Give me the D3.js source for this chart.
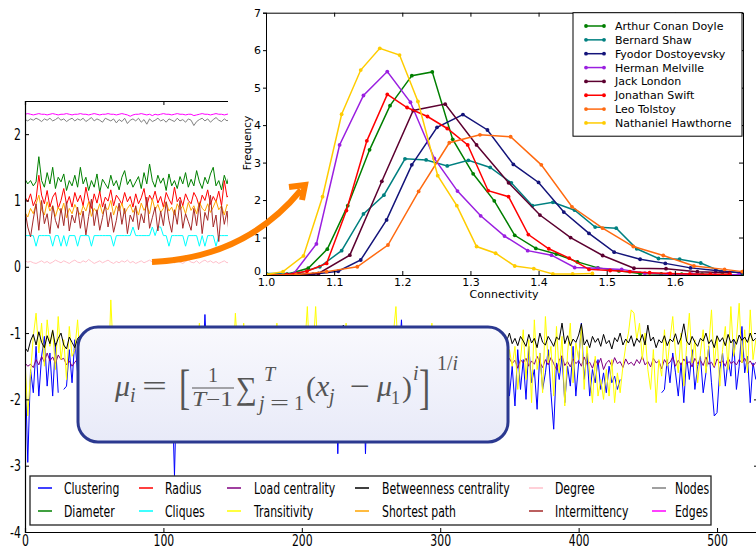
<!DOCTYPE html>
<html>
<head>
<meta charset="utf-8">
<script src="https://cdnjs.cloudflare.com/ajax/libs/d3/7.8.5/d3.min.js"></script>
<style>
  body { margin: 0; background: #fff; }
</style>
</head>
<body>
<div id="chart"></div>
<script>
// ---------- background: measures over time (one value every 2 steps) ----------
var step = 2;

var clustering = [
  -1.40,-2.95,-1.55,-1.90,-1.20,-1.95,-1.35,-1.05,-1.80,-1.30,-1.95,-1.15,-1.90,null,-1.85,-1.80,-1.25,-1.75,-1.10,-1.60,
  -1.35,-1.70,-1.20,-1.85,-1.45,-1.30,-1.65,-1.50,-1.25,-1.75,-1.40,-1.55,-1.30,-1.80,-1.45,-1.60,-1.20,-1.70,-1.50,-1.35,
  -1.60,-1.40,-1.75,-1.30,-1.55,-1.45,-1.85,-1.35,-1.60,-1.50,-1.70,-1.25,-1.55,-1.65,-3.15,-1.45,-1.70,-1.40,-1.60,-1.50,
  -1.65,-1.35,-1.55,-1.45,-1.75,-0.72,-1.60,-1.40,-1.70,-1.50,-1.35,-1.65,-1.45,-1.80,-1.55,-1.40,-1.70,-1.30,-1.60,-1.50,
  -1.75,-1.45,-1.60,-1.35,-1.55,-1.70,-2.65,-1.50,-1.40,-1.65,-1.55,-1.80,-1.45,-1.60,-1.35,-1.70,-1.50,-1.65,-1.40,-1.55,
  -1.60,-1.45,-1.75,-1.50,-1.65,-1.40,-1.70,-1.55,-1.45,-1.60,-1.35,-1.75,-1.50,-2.82,-1.60,-0.92,-1.45,-1.70,-1.55,-2.62,
  -1.50,-1.65,-1.40,-2.82,-1.55,-1.70,-1.45,-1.60,-1.35,-1.75,-1.50,-1.65,-1.40,-1.55,-1.70,-1.45,-0.80,-1.60,-1.50,-1.70,
  -1.45,-1.60,-1.75,-1.40,-1.55,-1.65,-1.35,-1.70,-1.50,-1.60,-1.45,-1.75,-1.40,-1.55,-1.65,-1.50,-1.70,-1.45,-1.60,-1.55,
  -1.70,-1.45,-1.60,-1.35,-1.75,-1.55,-1.40,-1.65,-1.50,-1.80,-1.45,-1.60,-1.70,-2.25,-1.30,-1.95,-1.50,-2.10,-1.25,-1.85,
  -1.40,-2.00,-1.20,-1.75,-1.55,-2.15,-1.30,-1.85,-1.60,-1.25,-1.90,-2.45,-1.45,-1.70,-1.35,-2.05,-1.50,-1.80,-1.20,-1.95,
  -1.45,-0.85,-1.70,-1.30,-1.95,-1.55,-1.75,-1.40,-1.85,-1.60,-1.90,-1.50,-1.75,-1.65,-1.85,-1.70,null,null,null,null,
  null,null,null,null,null,null,null,null,null,null,-1.90,-1.85,-1.40,-1.75,-1.30,-1.60,-1.95,-1.45,-2.05,-1.35,
  -1.70,-1.25,-1.85,-1.50,-1.35,-1.90,-1.60,-1.20,-1.75,-2.25,-2.20,-1.55,-1.30,-1.80,-1.40,-1.65,-1.10,-1.85,-1.50,-0.90,
  -1.60,-1.35,-2.05,-1.45,-1.70
];

var transitivity = [
  -1.40,-2.25,-1.60,-1.05,-0.70,-1.30,-0.85,-1.50,-0.80,-1.20,-0.95,-1.55,-0.75,-1.40,-1.10,-1.70,-0.90,-1.35,-1.25,-0.80,
  -1.50,-1.10,-1.70,-1.00,-1.45,-1.20,-0.95,-1.60,-1.30,-1.15,-1.80,-0.50,-1.40,-1.25,-1.55,-1.05,-1.35,-0.95,-1.70,-1.20,
  -1.45,-1.10,-1.60,-1.25,-1.85,-1.05,-1.40,-0.95,-1.50,-1.30,-1.70,-1.15,-1.40,-1.20,-1.55,-1.00,-1.35,-0.90,-1.60,-1.25,
  -1.50,-1.10,-1.30,-0.85,-1.65,-1.20,-1.45,-1.05,-1.75,-1.30,-1.10,-1.55,-1.25,-1.40,-1.20,-1.60,-0.70,-1.35,-1.50,-0.85,
  -1.45,-1.20,-1.60,-1.30,-1.05,-1.50,-1.25,-1.70,-1.15,-1.40,-1.35,-0.85,-1.55,-1.20,-1.45,-1.10,-1.65,-1.30,-1.50,-1.15,
  -1.40,-1.25,-0.60,-1.55,-1.30,-0.60,-1.45,-1.20,-1.70,-1.10,-1.35,-1.60,-1.25,-1.50,-1.15,-1.40,-0.85,-1.55,-1.20,-0.90,
  -1.45,-1.20,-1.65,-1.30,-1.10,-1.50,-1.25,-1.75,-1.35,-1.15,-1.60,-1.20,-1.45,-1.05,-0.60,-1.50,-1.30,-1.55,-1.20,-1.40,
  -1.35,-1.60,-1.15,-1.45,-0.90,-1.55,-1.25,-0.85,-1.50,-1.30,-1.65,-1.20,-1.40,-1.10,-1.55,-1.30,-1.70,-1.25,-1.45,-1.15,
  -1.50,-1.20,-1.65,-1.35,-1.10,-1.55,-1.25,-1.40,-1.70,-1.15,-1.45,-1.30,-1.60,-1.05,-1.80,-1.25,-1.50,-1.20,-1.85,-1.40,
  -0.95,-1.70,-1.10,-2.05,-0.80,-1.55,-1.30,-1.90,-0.75,-1.45,-1.20,-1.95,-0.90,-1.60,-1.05,-2.10,-1.30,-0.85,-1.75,-1.15,
  -1.40,-0.90,-1.85,-1.20,-1.60,-2.05,-1.35,-1.95,-1.70,-2.00,-1.55,-1.95,-1.40,-2.05,-1.60,-1.90,-1.50,-1.20,-1.00,-0.65,
  -0.70,-1.10,-0.85,-1.40,-1.00,-1.55,-1.85,-1.25,-2.05,-1.40,-1.65,-0.95,-1.50,-1.10,-0.75,-1.30,-1.60,-1.00,-1.80,-1.20,
  -0.70,-1.45,-1.10,-1.75,-1.30,-0.95,-1.60,-1.20,-0.65,-1.50,-1.05,-1.80,-1.25,-0.90,-1.55,-0.60,-1.35,-1.10,-0.55,-1.45,
  -0.95,-1.60,-0.65,-1.40,-1.10
];

var betweenness = [
  -1.22,-1.28,-1.12,-1.02,-1.18,-0.98,-1.14,-1.22,-1.04,-1.16,-0.96,-1.20,-1.08,-1.00,-1.18,-1.24,-1.06,-1.14,-1.22,-1.08,
  -1.04,-1.16,-1.10,-1.20,-1.06,-1.14,-1.02,-1.18,-1.12,-1.08,-1.22,-1.04,-1.15,-1.10,-1.19,-1.03,-1.13,-1.21,-1.07,-1.15,
  -1.10,-1.18,-1.04,-1.14,-1.20,-1.06,-1.12,-1.02,-1.16,-1.09,-1.21,-1.05,-1.13,-1.18,-1.03,-1.15,-1.09,-1.22,-1.07,-1.12,
  -1.16,-1.05,-1.19,-1.10,-1.03,-1.14,-1.20,-1.08,-1.13,-1.01,-1.17,-1.11,-1.06,-1.19,-1.12,-1.04,-1.15,-1.09,-1.21,-1.06,
  -1.12,-1.18,-1.05,-1.14,-1.09,-1.20,-1.03,-1.13,-1.17,-1.07,-1.11,-1.19,-1.04,-1.15,-1.10,-1.02,-1.16,-1.08,-1.20,-1.11,
  -1.05,-1.14,-1.19,-1.08,-1.12,-1.03,-1.17,-1.10,-1.21,-1.06,-1.13,-1.09,-1.18,-1.04,-1.15,-0.88,-1.11,-1.07,-1.19,-1.12,
  -1.08,-1.16,-1.03,-1.13,-1.20,-1.09,-1.14,-1.05,-1.18,-1.11,-1.02,-1.15,-1.19,-1.07,-1.12,-1.04,-1.17,-1.10,-1.21,-1.06,
  -1.13,-1.08,-1.18,-1.03,-1.15,-1.11,-1.20,-1.06,-1.12,-1.17,-1.04,-1.14,-1.09,-1.19,-1.05,-1.16,-1.10,-1.02,-1.18,-1.13,
  -1.07,-1.15,-1.11,-1.20,-1.04,-1.13,-1.18,-1.08,-1.14,-1.02,-1.17,-1.10,-1.21,-1.06,-1.12,-1.00,-1.16,-1.08,-1.19,-1.05,
  -1.12,-1.20,-1.02,-1.15,-1.08,-1.22,-1.00,-1.14,-1.18,-1.05,-1.12,-1.20,-1.06,-1.10,-0.85,-1.16,-1.04,-1.19,-1.09,-1.14,
  -1.03,-0.86,-1.18,-1.10,-1.22,-1.05,-1.14,-1.08,-1.20,-1.02,-1.16,-1.11,-1.24,-1.07,-1.13,-1.00,-1.18,-1.09,-1.15,-1.04,
  -1.20,-1.08,-1.14,-1.02,-1.18,-0.88,-1.12,-1.06,-1.22,-1.10,-1.15,-1.04,-1.19,-1.09,-1.13,-1.01,-1.17,-1.07,-0.86,-1.12,
  -1.18,-1.05,-1.14,-1.20,-1.08,-1.12,-1.00,-1.16,-1.10,-1.22,-1.04,-1.13,-1.07,-1.19,-1.02,-1.15,-1.09,-1.17,-1.03,-1.11,
  -1.06,-1.14,-1.00,-1.12,-1.08
];

var loadCentrality = [
  -1.45,-1.50,-1.47,-1.52,-1.40,-1.48,-1.35,-1.44,-1.30,-1.42,-1.36,-1.46,-1.33,-1.40,-1.38,-1.48,-1.42,-1.50,-1.44,-1.39,
  -1.46,-1.38,-1.50,-1.41,-1.35,-1.47,-1.43,-1.52,-1.37,-1.45,-1.40,-1.49,-1.34,-1.44,-1.48,-1.39,-1.46,-1.42,-1.51,-1.36,
  -1.44,-1.49,-1.38,-1.46,-1.41,-1.53,-1.37,-1.45,-1.40,-1.48,-1.35,-1.43,-1.50,-1.39,-1.47,-1.42,-1.36,-1.49,-1.44,-1.40,
  -1.47,-1.39,-1.45,-1.51,-1.36,-1.44,-1.41,-1.48,-1.38,-1.46,-1.52,-1.40,-1.43,-1.37,-1.49,-1.45,-1.39,-1.47,-1.42,-1.50,
  -1.38,-1.46,-1.43,-1.35,-1.48,-1.41,-1.50,-1.44,-1.37,-1.47,-1.40,-1.52,-1.45,-1.39,-1.43,-1.49,-1.36,-1.46,-1.42,-1.48,
  -1.41,-1.47,-1.36,-1.44,-1.50,-1.39,-1.45,-1.42,-1.53,-1.38,-1.46,-1.40,-1.48,-1.35,-1.44,-1.49,-1.41,-1.37,-1.46,-1.43,
  -1.50,-1.40,-1.45,-1.38,-1.47,-1.43,-1.36,-1.49,-1.42,-1.46,-1.39,-1.51,-1.44,-1.40,-1.48,-1.37,-1.45,-1.41,-1.50,-1.43,
  -1.39,-1.47,-1.42,-1.52,-1.38,-1.45,-1.41,-1.48,-1.36,-1.44,-1.49,-1.40,-1.46,-1.43,-1.37,-1.50,-1.42,-1.47,-1.39,-1.45,
  -1.41,-1.48,-1.36,-1.46,-1.43,-1.50,-1.39,-1.45,-1.52,-1.40,-1.47,-1.35,-1.44,-1.42,-1.49,-1.38,-1.46,-1.41,-1.53,-1.40,
  -1.45,-1.38,-1.50,-1.42,-1.47,-1.35,-1.44,-1.52,-1.40,-1.48,-1.37,-1.46,-1.55,-1.41,-1.34,-1.49,-1.43,-1.51,-1.39,-1.46,
  -1.42,-1.50,-1.36,-1.47,-1.44,-1.53,-1.40,-1.48,-1.38,-1.55,-1.45,-1.41,-1.50,-1.37,-1.46,-1.43,-1.52,-1.39,-1.47,-1.44,
  -1.49,-1.40,-1.46,-1.35,-1.48,-1.43,-1.51,-1.38,-1.45,-1.42,-1.54,-1.40,-1.47,-1.44,-1.36,-1.50,-1.41,-1.48,-1.39,-1.46,
  -1.43,-1.51,-1.38,-1.46,-1.41,-1.49,-1.36,-1.47,-1.44,-1.52,-1.39,-1.45,-1.42,-1.50,-1.37,-1.46,-1.43,-1.48,-1.40,-1.45,
  -1.38,-1.47,-1.42,-1.50,-1.44
];

// upper measures (only the first 150 steps are visible next to the inset)
var diameter = [
  1.32,1.25,1.30,1.22,1.28,1.66,1.30,1.20,1.42,1.25,1.50,1.18,1.35,1.28,1.40,1.15,1.30,1.22,1.38,1.20,
  1.50,1.25,1.35,1.15,1.30,1.20,1.40,1.12,1.32,1.25,1.18,1.38,1.22,1.30,1.16,1.35,1.45,1.24,1.32,1.20,
  1.28,1.36,1.18,1.42,1.25,1.55,1.30,1.20,1.38,1.26,1.34,1.15,1.40,1.22,1.30,1.18,1.36,1.25,1.42,1.20,
  1.32,1.22,1.45,1.28,1.18,1.35,1.25,1.40,1.50,1.22,1.30,1.16,1.38,1.25,1.42,1.30
];
var radius = [
  1.05,0.98,1.10,0.92,1.02,1.38,1.08,0.95,1.15,0.90,1.05,1.12,0.88,1.00,1.18,0.94,1.06,0.90,1.12,0.98,
  1.08,0.92,1.20,1.00,0.88,1.10,0.96,1.14,0.90,1.05,0.99,1.16,0.92,1.08,1.02,0.94,1.12,0.98,1.06,0.90,
  1.10,0.95,1.04,1.18,0.92,1.08,1.00,1.14,0.96,1.06,0.90,1.12,1.02,0.94,1.20,0.98,1.05,0.92,1.10,1.00,
  0.95,1.12,1.04,0.90,1.08,1.00,1.16,0.94,1.06,0.98,1.14,0.92,1.30,1.05,1.10,1.08
];
var cliques = [
  0.47,0.47,0.47,0.47,0.31,0.47,0.47,0.47,0.47,0.47,0.31,0.47,0.47,0.31,0.47,0.31,0.47,0.47,0.47,0.31,
  0.47,0.47,0.47,0.47,0.31,0.47,0.47,0.47,0.47,0.47,0.47,0.47,0.31,0.47,0.47,0.47,0.47,0.47,0.47,0.60,
  0.47,0.47,0.47,0.47,0.47,0.47,0.60,0.47,0.60,0.60,0.47,0.47,0.31,0.47,0.47,0.47,0.47,0.47,0.31,0.47,
  0.47,0.47,0.47,0.31,0.47,0.31,0.47,0.47,0.47,0.31,0.47,0.47,0.47,0.47,0.47,0.47
];
var shortestPath = [
  0.82,0.75,0.88,0.80,0.95,1.08,0.86,0.78,0.98,0.84,0.92,0.76,0.90,0.82,0.96,0.74,0.88,0.80,0.94,0.85,
  0.78,0.92,0.84,0.98,0.76,0.88,0.82,0.95,0.80,0.90,0.86,1.00,0.78,0.92,0.84,0.96,0.80,0.88,0.94,0.82,
  0.90,0.78,0.96,0.85,0.92,0.80,1.02,0.86,0.94,0.82,0.88,0.98,0.84,0.90,0.78,0.95,0.86,0.92,0.80,0.97,
  0.85,0.92,0.80,0.98,0.88,0.84,0.95,0.82,0.90,1.00,0.86,0.92,0.78,0.94,0.88,0.90
];
var degree = [
  0.09,0.07,0.08,0.06,0.05,0.07,0.09,0.06,0.08,0.05,0.07,0.10,0.08,0.06,0.09,0.07,0.05,0.08,0.10,0.07,
  0.06,0.09,0.07,0.11,0.08,0.05,0.07,0.09,0.06,0.08,0.10,0.07,0.05,0.08,0.06,0.09,0.07,0.10,0.06,0.08,
  0.05,0.07,0.09,0.06,0.08,0.10,0.07,0.05,0.08,0.06,0.09,0.07,0.12,0.08,0.06,0.09,0.07,0.05,0.08,0.10,
  0.07,0.06,0.09,0.05,0.08,0.10,0.07,0.09,0.06,0.08,0.05,0.07,0.09,0.06,0.08,0.07
];
var intermittency = [
  0.85,0.60,0.45,0.72,0.95,0.55,1.00,0.65,0.80,0.50,0.92,0.70,0.58,0.88,0.62,0.98,0.54,0.78,0.66,0.90,
  0.58,0.84,0.48,0.76,1.02,0.62,0.86,0.55,0.74,0.95,0.60,0.82,0.52,0.70,0.96,0.64,0.88,0.50,0.78,0.68,
  0.92,0.56,0.80,0.66,1.05,0.58,0.74,0.90,0.54,0.84,0.62,0.98,0.70,0.52,0.86,0.64,1.00,0.58,0.80,0.68,
  0.55,0.88,0.62,0.96,0.50,0.82,0.70,1.08,0.60,0.78,0.38,0.92,0.64,0.84,0.35,0.86
];
var nodes = [
  2.22,2.20,2.23,2.21,2.24,2.22,2.19,2.23,2.21,2.24,2.20,2.22,2.25,2.21,2.23,2.19,2.22,2.24,2.20,2.23,
  2.21,2.24,2.19,2.22,2.25,2.20,2.23,2.21,2.18,2.24,2.22,2.20,2.23,2.17,2.22,2.19,2.24,2.16,2.21,2.23,
  2.20,2.24,2.18,2.22,2.15,2.23,2.19,2.21,2.24,2.20,2.22,2.18,2.23,2.21,2.19,2.24,2.20,2.22,2.18,2.23,
  2.21,2.13,2.19,2.22,2.24,2.20,2.23,2.18,2.22,2.25,2.21,2.19,2.23,2.20,2.24,2.22
];
var edges = [
  2.30,2.31,2.30,2.29,2.30,2.31,2.30,2.30,2.29,2.30,2.31,2.30,2.29,2.30,2.30,2.31,2.30,2.29,2.30,2.30,
  2.31,2.30,2.30,2.29,2.30,2.31,2.30,2.29,2.30,2.30,2.31,2.30,2.30,2.29,2.30,2.31,2.30,2.29,2.27,2.29,
  2.30,2.30,2.31,2.30,2.29,2.30,2.28,2.30,2.29,2.30,2.31,2.30,2.30,2.29,2.30,2.31,2.30,2.30,2.29,2.30,
  2.30,2.28,2.29,2.30,2.31,2.30,2.30,2.29,2.30,2.31,2.30,2.30,2.29,2.30,2.31,2.30
];

// plotting order (= legend order, column by column)
var bgNames = ["Clustering", "Diameter", "Radius", "Cliques", "Load centrality", "Transitivity",
               "Betweenness centrality", "Shortest path", "Degree", "Intermittency", "Nodes", "Edges"];
var bgSeries = [clustering, diameter, radius, cliques, loadCentrality, transitivity,
                betweenness, shortestPath, degree, intermittency, nodes, edges];
var bgColors = ["#0000ff", "#008000", "#ff0000", "#00ffff", "#800080", "#ffff00",
                "#000000", "#ffa500", "#ffc0cb", "#a52a2a", "#808080", "#ff00ff"];
var bgYTicks = [-4, -3, -2, -1, 0, 1, 2];
var bgXTicks = [0, 100, 200, 300, 400, 500];

// ---------- inset: connectivity distributions per author ----------
var authors = ["Arthur Conan Doyle", "Bernard Shaw", "Fyodor Dostoyevsky", "Herman Melville",
               "Jack London", "Jonathan Swift", "Leo Tolstoy", "Nathaniel Hawthorne"];
var authorColors = ["#007f00", "#008080", "#14147a", "#9a1fe0", "#5c0030", "#ff0000", "#ff6a10", "#ffcc00"];

var doyleX = [1.0, 1.031, 1.062, 1.09, 1.12, 1.152, 1.182, 1.214, 1.244, 1.274, 1.304, 1.335, 1.365, 1.396, 1.426, 1.457, 1.487, 1.518, 1.549, 1.58, 1.61, 1.64, 1.67, 1.70];
var doyleY = [0, 0.02, 0.18, 0.69, 1.85, 3.34, 4.52, 5.32, 5.42, 3.62, 2.70, 1.98, 1.06, 0.71, 0.56, 0.35, 0.19, 0.11, 0.04, 0.03, 0.02, 0.02, 0.01, 0.01];
var shawX = [1.0, 1.048, 1.079, 1.111, 1.143, 1.173, 1.204, 1.235, 1.266, 1.297, 1.329, 1.360, 1.391, 1.421, 1.453, 1.483, 1.514, 1.544, 1.576, 1.607, 1.638, 1.668, 1.699];
var shawY = [0.04, 0.05, 0.22, 0.65, 1.63, 2.13, 3.10, 3.07, 2.91, 3.06, 2.87, 2.46, 1.85, 1.94, 1.73, 1.28, 1.25, 0.70, 0.44, 0.42, 0.32, 0.09, 0.06];
var dostoyevskyX = [1.0, 1.032, 1.069, 1.106, 1.139, 1.177, 1.214, 1.251, 1.289, 1.325, 1.363, 1.400, 1.437, 1.474, 1.511, 1.549, 1.586, 1.623, 1.660, 1.697];
var dostoyevskyY = [0, 0, 0.02, 0.10, 0.40, 1.47, 2.94, 3.94, 4.28, 3.87, 2.95, 2.47, 1.68, 1.11, 0.61, 0.42, 0.31, 0.19, 0.12, 0.06];
var melvilleX = [1.0, 1.04, 1.074, 1.108, 1.143, 1.178, 1.212, 1.247, 1.281, 1.315, 1.350, 1.384, 1.419, 1.453, 1.487, 1.522, 1.556, 1.590, 1.625, 1.659, 1.694];
var melvilleY = [0, 0.02, 0.83, 3.47, 4.79, 5.43, 4.61, 3.11, 2.24, 1.58, 1.04, 0.65, 0.53, 0.20, 0.18, 0.15, 0.05, 0.03, 0.02, 0.01, 0.01];
var londonX = [1.0, 1.031, 1.077, 1.123, 1.170, 1.216, 1.263, 1.309, 1.356, 1.402, 1.447, 1.494, 1.540, 1.587, 1.633, 1.680];
var londonY = [0, 0.01, 0.04, 0.53, 2.50, 4.39, 4.56, 3.47, 2.46, 1.60, 1.00, 0.52, 0.18, 0.17, 0.09, 0.06];
var swiftX = [1.0, 1.03, 1.06, 1.089, 1.118, 1.148, 1.178, 1.207, 1.237, 1.266, 1.296, 1.326, 1.356, 1.385, 1.415, 1.445, 1.474, 1.505, 1.534, 1.563, 1.593, 1.622, 1.652, 1.681];
var swiftY = [0, 0.01, 0.10, 0.31, 1.72, 3.58, 4.82, 4.47, 4.23, 3.91, 3.47, 2.25, 2.09, 1.08, 0.70, 0.45, 0.15, 0.12, 0.09, 0.06, 0.04, 0.03, 0.02, 0.02];
var tolstoyX = [1.0, 1.044, 1.089, 1.134, 1.179, 1.224, 1.269, 1.314, 1.359, 1.404, 1.449, 1.494, 1.539, 1.583, 1.628, 1.673, 1.699];
var tolstoyY = [0, 0.01, 0.09, 0.22, 0.80, 2.23, 3.53, 3.74, 3.69, 2.94, 1.82, 1.25, 0.76, 0.52, 0.24, 0.15, 0.09];
var hawthorneX = [1.0, 1.025, 1.055, 1.083, 1.111, 1.139, 1.167, 1.196, 1.223, 1.252, 1.280, 1.309, 1.337, 1.365, 1.393, 1.421, 1.45, 1.479];
var hawthorneY = [0.01, 0.09, 0.51, 2.09, 4.29, 5.47, 6.05, 5.87, 4.63, 2.65, 1.85, 0.76, 0.58, 0.24, 0.17, 0.03, 0.03, 0.04];

var authorX = [doyleX, shawX, dostoyevskyX, melvilleX, londonX, swiftX, tolstoyX, hawthorneX];
var authorY = [doyleY, shawY, dostoyevskyY, melvilleY, londonY, swiftY, tolstoyY, hawthorneY];
var insetXTicks = [1.0, 1.1, 1.2, 1.3, 1.4, 1.5, 1.6];

// ---------- set up ----------
var svgWidth = 756;
var svgHeight = 550;
var squeeze = "scale(0.68,1)";   // background figure text looks horizontally squashed

var svg = d3.select("#chart")
    .append("svg")
    .attr("width", svgWidth)
    .attr("height", svgHeight)
    .style("font-family", "'DejaVu Sans', sans-serif");

svg.append("rect").attr("width", svgWidth).attr("height", svgHeight).attr("fill", "#fff");

var defs = svg.append("defs");
defs.append("clipPath").attr("id", "bgclip")
    .append("rect").attr("x", 25).attr("y", 101).attr("width", 733).attr("height", 431);
defs.append("clipPath").attr("id", "inclip")
    .append("rect").attr("x", 266).attr("y", 12.7).attr("width", 477).attr("height", 262.3);
var grad = defs.append("linearGradient").attr("id", "boxfill")
    .attr("x1", 0).attr("y1", 0).attr("x2", 0).attr("y2", 1);
grad.append("stop").attr("offset", "0%").attr("stop-color", "#f9f9fd");
grad.append("stop").attr("offset", "100%").attr("stop-color", "#e8eaf8");

// ---------- background chart ----------
var xBg = d3.scaleLinear().domain([0, 529.6]).range([25, 758]);
var yBg = d3.scaleLinear().domain([-4, 2.5]).range([532, 101]);

var bgLine = d3.line()
    .defined(d => d != null)
    .x((d, i) => xBg(i * step))
    .y(d => yBg(d));

var bgGroup = svg.append("g").attr("clip-path", "url(#bgclip)");
bgSeries.forEach(function(values, k) {
    bgGroup.append("path")
        .datum(values)
        .attr("d", bgLine)
        .attr("fill", "none")
        .attr("stroke", bgColors[k])
        .attr("stroke-width", 1);
});

function styleAxis(g, size) {
    g.select(".domain").attr("stroke", "#000").attr("stroke-width", 1.2);
    g.selectAll(".tick line").attr("stroke", "#000");
    g.selectAll("text").attr("font-size", size).attr("fill", "#000")
        .attr("font-family", "'DejaVu Sans', sans-serif");
}

var bgBottom = svg.append("g").attr("transform", "translate(0,532)")
    .call(d3.axisBottom(xBg).tickValues(bgXTicks).tickSizeOuter(0).tickSize(-4).tickPadding(3).tickFormat(d => String(d)));
styleAxis(bgBottom, 16);
bgBottom.selectAll("text").attr("transform", squeeze);

var bgTop = svg.append("g").attr("transform", "translate(0,101)")
    .call(d3.axisTop(xBg).tickValues(bgXTicks).tickSizeOuter(0).tickSize(-4).tickFormat(""));
styleAxis(bgTop, 16);

var bgLeft = svg.append("g").attr("transform", "translate(25,0)")
    .call(d3.axisLeft(yBg).tickValues(bgYTicks).tickSizeOuter(0).tickSize(-4).tickPadding(6).tickFormat(d => String(d)));
styleAxis(bgLeft, 16);
bgLeft.selectAll("text").attr("transform", squeeze);

var bgRight = svg.append("g").attr("transform", "translate(758,0)")
    .call(d3.axisRight(yBg).tickValues(bgYTicks).tickSizeOuter(0).tickSize(-4).tickFormat(""));
styleAxis(bgRight, 16);

// legend of the background chart (2 rows, 6 columns)
var legendHandleX = [38, 139, 227, 355, 529, 652];
var legendTextX = [64, 165, 254, 382, 555, 675];
var legendRowY = [488, 511];

svg.append("rect")
    .attr("x", 30).attr("y", 476).attr("width", 681).attr("height", 49)
    .attr("fill", "#fff").attr("stroke", "#222").attr("stroke-width", 1.3);

bgNames.forEach(function(name, k) {
    var col = Math.floor(k / 2), row = k % 2;
    var y = legendRowY[row];
    svg.append("line")
        .attr("x1", legendHandleX[col]).attr("x2", legendHandleX[col] + 14)
        .attr("y1", y).attr("y2", y)
        .attr("stroke", bgColors[k]).attr("stroke-width", 1.5);
    svg.append("text")
        .attr("transform", "translate(" + legendTextX[col] + "," + (y + 6) + ") " + squeeze)
        .attr("font-size", 16)
        .attr("fill", "#000")
        .text(name);
});

// ---------- formula box ----------
svg.append("rect")
    .attr("x", 78).attr("y", 327).attr("width", 430).attr("height", 115)
    .attr("rx", 20).attr("ry", 20)
    .attr("fill", "url(#boxfill)")
    .attr("stroke", "#2b3990").attr("stroke-width", 3);

var fm = svg.append("g")
    .attr("fill", "#555")
    .style("font-family", "'Liberation Serif', 'DejaVu Serif', serif");

function piece(txt, x, y, size, italic) {
    return fm.append("text").attr("x", x).attr("y", y)
        .attr("font-size", size)
        .attr("font-style", italic ? "italic" : "normal")
        .text(txt);
}
piece("\u03bc", 115, 396, 30, true);
piece("i", 130, 402, 20, true);
piece("=", 142, 396, 30, false).attr("textLength", 25).attr("lengthAdjust", "spacingAndGlyphs");
fm.append("text")
    .attr("transform", "translate(179,403) scale(0.7,1)")
    .attr("font-size", 48)
    .text("[");
piece("1", 208, 382, 20, false);
fm.append("line").attr("x1", 192).attr("x2", 234).attr("y1", 388).attr("y2", 388)
    .attr("stroke", "#555").attr("stroke-width", 1.2);
var den = piece("", 192, 406, 20, false).attr("textLength", 41).attr("lengthAdjust", "spacingAndGlyphs");
den.append("tspan").attr("font-style", "italic").text("T");
den.append("tspan").text("\u22121");
piece("\u2211", 236, 399, 32, false).attr("textLength", 21).attr("lengthAdjust", "spacingAndGlyphs");
piece("T", 264, 381, 20, true);
piece("j", 259, 410, 20, true);
piece("=", 270, 410, 20, false).attr("textLength", 19).attr("lengthAdjust", "spacingAndGlyphs");
piece("1", 294, 410, 20, false);
piece("(", 306, 397, 30, false);
piece("x", 316, 396, 30, true);
piece("j", 329, 403, 20, true);
piece("\u2212", 350, 396, 30, false).attr("textLength", 20).attr("lengthAdjust", "spacingAndGlyphs");
piece("\u03bc", 377, 396, 30, true);
piece("1", 391, 404, 18, false);
piece(")", 402, 397, 30, false);
piece("i", 413, 380, 20, true);
fm.append("text")
    .attr("transform", "translate(419,403) scale(0.7,1)")
    .attr("font-size", 48)
    .text("]");
var pw = piece("", 437, 370, 20, false);
pw.append("tspan").text("1/");
pw.append("tspan").attr("font-style", "italic").text("i");

// ---------- inset chart ----------
svg.append("rect")
    .attr("x", 228).attr("y", 0).attr("width", 528).attr("height", 301)
    .attr("fill", "#fff");

var xIn = d3.scaleLinear().domain([1.0, 1.7]).range([266, 743]);
var yIn = d3.scaleLinear().domain([0, 7]).range([275, 12.7]);

var inGroup = svg.append("g").attr("clip-path", "url(#inclip)");
var inLine = d3.line()
    .x(d => xIn(d[0]))
    .y(d => yIn(d[1]));

authors.forEach(function(name, k) {
    var pts = authorX[k].map((x, i) => [x, authorY[k][i]]);
    inGroup.append("path")
        .datum(pts)
        .attr("d", inLine)
        .attr("fill", "none")
        .attr("stroke", authorColors[k])
        .attr("stroke-width", 1.5);
    inGroup.selectAll(".dot" + k)
        .data(pts)
        .enter()
        .append("circle")
        .attr("cx", d => xIn(d[0]))
        .attr("cy", d => yIn(d[1]))
        .attr("r", 1.9)
        .attr("fill", authorColors[k]);
});

var inBottom = svg.append("g").attr("transform", "translate(0,275)")
    .call(d3.axisBottom(xIn).tickValues(insetXTicks).tickSizeOuter(0).tickSize(-4).tickPadding(3).tickFormat(d3.format(".1f")));
styleAxis(inBottom, 11);
inBottom.select(".domain").attr("stroke-width", 1);

var inTop = svg.append("g").attr("transform", "translate(0,12.7)")
    .call(d3.axisTop(xIn).tickValues(insetXTicks).tickSizeOuter(0).tickSize(-4).tickFormat(""));
styleAxis(inTop, 11);
inTop.select(".domain").attr("stroke-width", 1);

var inLeft = svg.append("g").attr("transform", "translate(266,0)")
    .call(d3.axisLeft(yIn).ticks(7).tickSizeOuter(0).tickSize(3).tickPadding(2));
styleAxis(inLeft, 11);
inLeft.select(".domain").attr("stroke-width", 1);
// the "0" label sits just above the "1.0" label, as in the source figure
inLeft.selectAll(".tick text").filter(d => d === 0).attr("dy", "-0.05em");

var inRight = svg.append("g").attr("transform", "translate(743,0)")
    .call(d3.axisRight(yIn).ticks(7).tickSizeOuter(0).tickSize(-4).tickFormat(""));
styleAxis(inRight, 11);
inRight.select(".domain").attr("stroke-width", 1);

svg.append("text")
    .attr("x", 504).attr("y", 298)
    .attr("text-anchor", "middle")
    .attr("font-size", 11)
    .text("Connectivity");

svg.append("text")
    .attr("transform", "translate(251,143) rotate(-90)")
    .attr("text-anchor", "middle")
    .attr("font-size", 10.5)
    .text("Frequency");

// inset legend
svg.append("rect")
    .attr("x", 573).attr("y", 12.7).attr("width", 169).attr("height", 123.5)
    .attr("fill", "#fff").attr("stroke", "#000").attr("stroke-width", 1);

authors.forEach(function(name, k) {
    var y = 26 + k * 13.85;
    svg.append("line")
        .attr("x1", 586).attr("x2", 604).attr("y1", y).attr("y2", y)
        .attr("stroke", authorColors[k]).attr("stroke-width", 1.5);
    [586, 604].forEach(function(cx) {
        svg.append("circle").attr("cx", cx).attr("cy", y).attr("r", 1.9).attr("fill", authorColors[k]);
    });
    svg.append("text")
        .attr("x", 615).attr("y", y + 4)
        .attr("font-size", 11)
        .attr("fill", "#000")
        .text(name);
});

// ---------- arrow from the small panel to the inset ----------
svg.append("path")
    .attr("d", "M152,262 Q245,258 301,190")
    .attr("fill", "none")
    .attr("stroke", "#ff8000")
    .attr("stroke-width", 6);
svg.append("path")
    .attr("d", "M289,187 L305,185 L302,200")
    .attr("fill", "none")
    .attr("stroke", "#ff8000")
    .attr("stroke-width", 6)
    .attr("stroke-linejoin", "miter");
</script>
</body>
</html>
